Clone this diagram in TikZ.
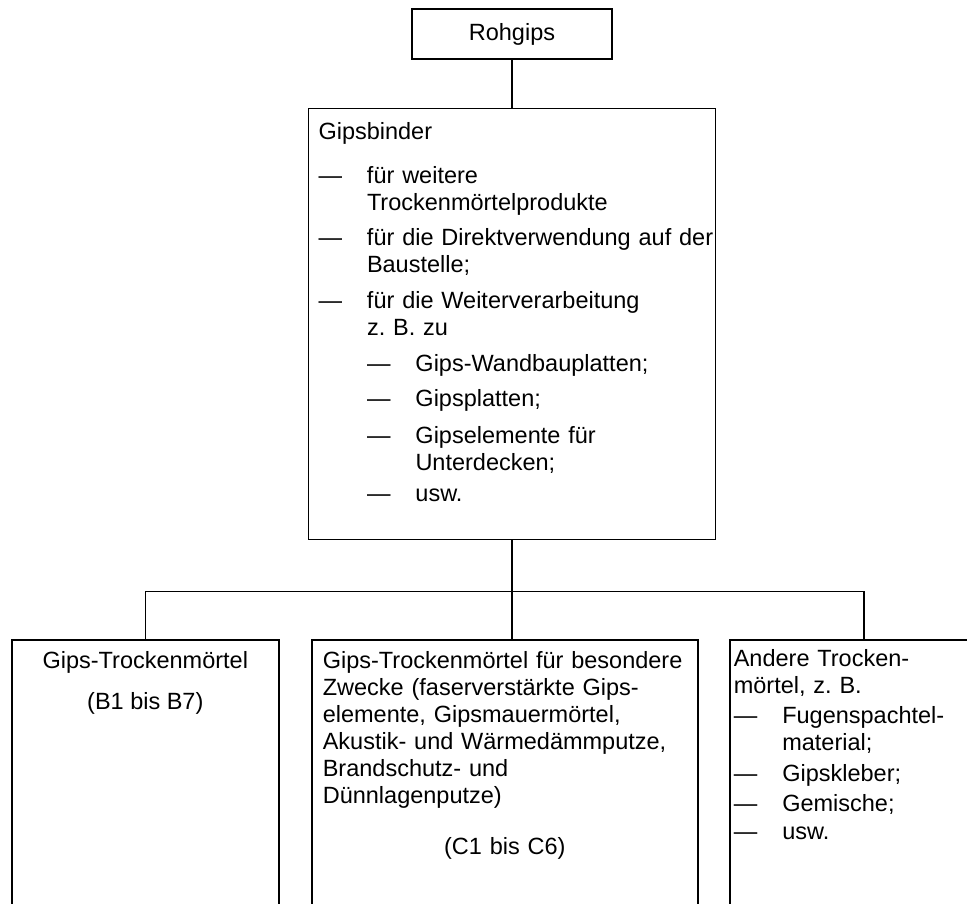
\documentclass[tikz,border=0pt]{standalone}
\usepackage{fontspec}
\setmainfont{Liberation Sans}
\usetikzlibrary{positioning}
\newcommand{\dsh}{\makebox[48.5pt][l]{—}}
\newcommand{\ind}{\hspace*{48.5pt}}

\begin{document}
\begin{tikzpicture}[
  x=1pt, y=-1pt,
  line width=1.6pt,
  box/.style={draw, inner sep=0pt, font=\fontsize{23.5}{27}\selectfont},
  txt/.style={inner sep=0pt, align=left, font=\fontsize{23.5}{27}\selectfont\frenchspacing}
]
\useasboundingbox (0,0) rectangle (967,904);
\clip (0,0) rectangle (967,904);

\node[box, minimum width=200pt, minimum height=50pt] (rohgips) at (512,34) {Rohgips};
\node[box, minimum width=407pt, minimum height=431pt, below=48pt of rohgips] (binder) {};
\node[box, minimum width=267pt, minimum height=300pt, anchor=north west] (gtm) at (11,639) {};
\node[box, minimum width=386pt, minimum height=300pt, anchor=north west] (gtmb) at (311,639) {};
\node[box, minimum width=268pt, minimum height=300pt, anchor=north west] (andere) at (729,639) {};

\node[txt, text width=397pt, below right=12.1pt and 10pt of binder.north west] (binderlist) {%
  \strut Gipsbinder\\[17pt]
  \dsh für weitere\\
  \ind Trockenmörtelprodukte\\[8pt]
  \dsh für die Direktverwendung auf der\\
  \ind Baustelle;\\[9pt]
  \dsh für die Weiterverarbeitung\\
  \ind z. B. zu\\[9pt]
  \ind\dsh Gips-Wandbauplatten;\\[8pt]
  \ind\dsh Gipsplatten;\\[10pt]
  \ind\dsh Gipselemente für\\
  \ind\ind Unterdecken;\\[4pt]
  \ind\dsh usw.};

\node[txt, align=center, below=10.1pt of gtm.north] (gtmtext) {%
  \strut Gips-Trockenmörtel\\[14pt]
  (B1 bis B7)};

\node[txt, text width=364pt, below right=10.1pt and 11pt of gtmb.north west] (gtmbtext) {%
  \strut Gips-Trockenmörtel für besondere\\
  Zwecke (faserverstärkte Gips-\\
  elemente, Gipsmauermörtel,\\
  Akustik- und Wärmedämmputze,\\
  Brandschutz- und\\
  Dünnlagenputze)\\[24pt]
  \makebox[\hsize]{(C1 bis C6)}};

\node[txt, text width=264pt, below right=8.1pt and 4pt of andere.north west] (anderetext) {%
  \strut Andere Trocken-\\
  mörtel, z. B.\\[3pt]
  \dsh Fugenspachtel-\\
  \ind material;\\[4pt]
  \dsh Gipskleber;\\[3pt]
  \dsh Gemische;\\[1pt]
  \dsh usw.};

\coordinate[below=51pt of binder.south] (fork);
\draw (rohgips) -- (binder);
\draw (binder.south) -- (binder.south |- gtmb.north);
\draw (gtm.north) |- (fork) -| (andere.north);
\end{tikzpicture}
\end{document}
